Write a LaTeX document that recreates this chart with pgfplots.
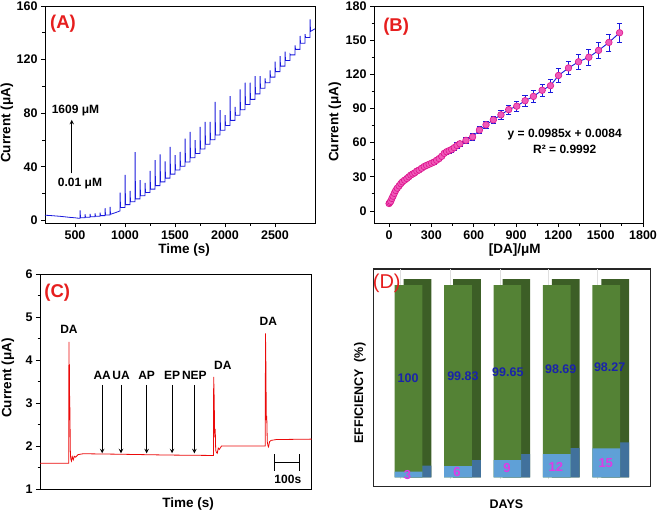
\documentclass[border=0pt]{standalone}
\usepackage{fontspec}
\setmainfont{Liberation Sans}
\usepackage{pgfplots}
\pgfplotsset{compat=1.18}
\usepackage{pgfplotstable}

\definecolor{pblue}{RGB}{25,25,220}
\definecolor{pred}{RGB}{235,10,10}
\definecolor{lblred}{RGB}{230,30,30}
\definecolor{mkfill}{RGB}{240,90,185}
\definecolor{mkdraw}{RGB}{220,20,140}
\definecolor{gfront}{RGB}{84,130,53}
\definecolor{gback}{RGB}{60,94,38}
\definecolor{bfront}{RGB}{95,160,215}
\definecolor{bback}{RGB}{65,113,156}
\definecolor{valblue}{RGB}{25,35,170}
\definecolor{magn}{RGB}{220,60,230}

\pgfplotstableread{
x y e
0 6.5 0.8
5 7.5 0.8
12 8.5 1
20 11 1
28 13 1
37 15.5 1
47 18 1.2
58 20 1.2
71 22 1.2
83 24 1.2
95 25.6 1.3
110 27 1.3
126 28.5 1.5
140 30 1.5
154 31.5 1.5
168 32.5 1.5
182 33.5 1.5
197 35 1.5
213 36 1.6
231 37.5 1.6
249 39 1.8
266 40 1.8
284 41 1.8
302 42 1.8
320 43 2
337 44.5 2
355 46 2
373 48 2
391 50.6 2
408 52 2
426 53 2.2
444 54 2.2
462 55.6 2.2
482 57.5 2.3
502 59 2.5
545 62 2.5
592 65 3
640 71 3
687 75.6 3.2
739 80 3.5
793 84.4 4
848 89 4
905 92 4.5
964 96.8 5
1023 100.6 5
1085 106 5
1144 110 5.5
1201 119 6
1272 125.6 6
1343 131 6.5
1416 135 7
1485 141 7
1558 148 7.5
1634 156.5 8
}\tableB

\pgfplotsset{
  panel/.style={scale only axis, anchor=south west,
    axis line style={line width=0.9pt},
    tick style={line width=0.8pt, black},
    tick align=outside, xtick pos=left, ytick pos=left,
    major tick length=4pt, minor tick length=2.5pt,
    tick label style={font=\bfseries\fontsize{12.5}{12.5}\selectfont},
    label style={font=\bfseries\fontsize{13.5}{13.5}\selectfont},
    /pgf/number format/assume math mode=true,
    /pgf/number format/1000 sep={},
    scaled ticks=false},
}
\tikzset{
  plab/.style={font=\bfseries\fontsize{18.5}{18.5}\selectfont, text=lblred},
  ann/.style={font=\bfseries\fontsize{12}{12}\selectfont},
  dval/.style={font=\bfseries\fontsize{12.5}{12.5}\selectfont, text=valblue},
  dday/.style={font=\bfseries\fontsize{13}{13}\selectfont, text=magn},
}

\begin{document}
\begin{tikzpicture}
\useasboundingbox (0,0) rectangle (658pt,512pt);

% ---------------- Panel A ----------------
\begin{axis}[panel, at={(45pt,289pt)}, width=270pt, height=217pt,
  xmin=200, xmax=2900, ymin=-2, ymax=160,
  xtick={500,1000,1500,2000,2500}, ytick={0,40,80,120,160},
  minor x tick num=1, minor y tick num=1,
  xlabel={Time (s)}, ylabel={Current (μA)},
  xlabel style={at={(axis description cs:0.515,-0.124)}, anchor=center},
  ylabel style={at={(axis description cs:-0.141,0.46)}, anchor=center}]
\addplot[pblue, line width=0.8pt] coordinates {
(200,3.8)(250,3.6)(300,3.3)(350,3.0)(400,2.6)(450,2.2)(500,1.9)(530,1.6)
(550,1.5)(551,7.5)(555,1.9)(600,1.9)(601,4.5)(605,2.3)(650,2.3)(651,4.8)(655,2.7)
(700,2.7)(701,5.2)(705,3.1)(750,3.1)(751,5.8)(755,3.5)(800,3.5)(801,9)(805,4.0)
(850,4.0)(851,10)(855,4.5)(900,5.6)(950,7.0)(951,20.7)(955,9.6)(1000,9.6)(1001,34)(1005,11.7)
(1050,11.7)(1051,22)(1055,13.8)(1100,13.8)(1101,51)(1105,16.0)(1150,16.0)(1151,30)(1155,18.3)
(1200,18.3)(1201,28)(1205,20.7)(1250,20.7)(1251,37)(1255,23.3)(1300,23.3)(1301,44.9)(1305,25.9)
(1350,25.9)(1351,49.3)(1355,28.7)(1400,28.7)(1401,44)(1405,31.5)(1450,31.5)(1451,54.8)(1455,34.5)
(1500,34.5)(1501,48.6)(1505,37.5)(1550,37.5)(1551,51)(1555,40.3)(1600,40.3)(1601,61)(1605,43.5)
(1650,43.5)(1651,66)(1655,46.7)(1700,46.7)(1701,59.8)(1705,49.9)(1750,49.9)(1751,69.8)(1755,53.3)
(1800,53.3)(1801,73.5)(1805,56.8)(1850,56.8)(1851,73.5)(1855,60.2)(1900,60.2)(1901,88.5)(1905,63.7)
(1950,63.7)(1951,82.2)(1955,67.2)(2000,67.2)(2001,78.5)(2005,70.8)(2050,70.8)(2051,92.7)(2055,74.6)
(2100,74.6)(2101,84.7)(2105,78.5)(2150,78.5)(2151,97.7)(2155,82.5)(2200,82.5)(2201,102.7)(2205,86.4)
(2250,86.4)(2251,102.7)(2255,90.3)(2300,90.3)(2301,107.7)(2305,94.4)(2350,94.4)(2351,107.7)(2355,98.6)
(2400,98.6)(2401,105.9)(2405,102.7)(2450,102.7)(2451,112)(2455,106.9)(2500,106.9)(2501,118.4)(2505,111.0)
(2550,111.0)(2551,122.6)(2555,115.1)(2600,115.1)(2601,126)(2605,119.3)(2650,119.3)(2651,124)(2655,123.5)
(2700,123.5)(2701,130.6)(2705,127.6)(2750,127.6)(2751,137.6)(2755,132.2)(2800,132.2)(2801,139)(2805,136.5)
(2850,136.5)(2851,150)(2855,141)(2900,143)};
\draw[-stealth, line width=1pt] (axis cs:467,35) -- (axis cs:467,75);
\node[ann, fill=white, inner sep=1pt] at (axis cs:505,82) {1609 μM};
\node[ann, fill=white, inner sep=1pt] at (axis cs:550,27.5) {0.01 μM};
\node[plab] at (axis cs:380,147) {(A)};
\end{axis}

% ---------------- Panel B ----------------
\begin{axis}[panel, at={(374pt,289pt)}, width=269pt, height=217pt,
  xmin=-107, xmax=1800, ymin=-10.6, ymax=180,
  xtick={0,300,600,900,1200,1500,1800}, ytick={0,30,60,90,120,150,180},
  minor x tick num=1, minor y tick num=1,
  xlabel={[DA]/μM}, ylabel={Current (μA)},
  xlabel style={at={(axis description cs:0.523,-0.124)}, anchor=center},
  ylabel style={at={(axis description cs:-0.145,0.465)}, anchor=center}]
\addplot[only marks, mark=*, mark size=3.3pt, mark options={draw=mkdraw, fill=mkfill, line width=0.6pt}]
  table[x=x, y=y] {\tableB};
\addplot[pblue, line width=0.9pt, no markers,
  error bars/.cd, y dir=both, y explicit,
  error bar style={pblue, line width=0.7pt},
  error mark options={rotate=90, mark size=2.6pt, pblue, line width=0.7pt}]
  table[x=x, y=y, y error=e] {\tableB};
\node[ann] at (axis cs:1245,66.8) {y = 0.0985x + 0.0084};
\node[ann] at (axis cs:1245,54.4) {R² = 0.9992};
\node[plab] at (axis cs:50,162) {(B)};
\end{axis}

% ---------------- Panel C ----------------
\begin{axis}[panel, at={(40pt,23pt)}, width=271.7pt, height=215pt,
  xmin=0, xmax=1070, ymin=1, ymax=6,
  xtick=\empty, ytick={1,2,3,4,5,6}, minor y tick num=1,
  xlabel={Time (s)}, ylabel={Current (μA)},
  xlabel style={at={(axis description cs:0.545,-0.07)}, anchor=center},
  ylabel style={at={(axis description cs:-0.118,0.516)}, anchor=center}]
\addplot[pred, line width=0.8pt] coordinates {
(0,1.6)(60,1.6)(113,1.6)(114,4.42)(115,2.9)(116,3.9)(117,2.6)(118,2.9)(119,1.95)(121,1.7)(124,1.65)
(127,1.75)(131,1.68)(135,1.76)(140,1.74)(150,1.8)(170,1.82)(300,1.81)(500,1.79)(683,1.78)
(684,3.61)(686,3.1)(688,2.2)(690,2.4)(692,1.9)(695,1.85)(698,1.83)(702,1.95)(706,1.92)(715,2.0)(740,2.0)(887,2.0)
(888,4.62)(890,3.7)(891,2.6)(893,2.7)(895,2.1)(898,2.0)(900,1.98)(904,2.1)(910,2.13)(930,2.15)(1070,2.16)};
\draw[-stealth, line width=1pt] (axis cs:245,3.42) -- (axis cs:245,1.83);
\draw[-stealth, line width=1pt] (axis cs:319,3.42) -- (axis cs:319,1.83);
\draw[-stealth, line width=1pt] (axis cs:420,3.42) -- (axis cs:420,1.83);
\draw[-stealth, line width=1pt] (axis cs:520,3.42) -- (axis cs:520,1.83);
\draw[-stealth, line width=1pt] (axis cs:608,3.42) -- (axis cs:608,1.83);
\node[ann] at (axis cs:245,3.65) {AA};
\node[ann] at (axis cs:319,3.65) {UA};
\node[ann] at (axis cs:420,3.65) {AP};
\node[ann] at (axis cs:520,3.65) {EP};
\node[ann] at (axis cs:608,3.65) {NEP};
\node[ann] at (axis cs:114,4.72) {DA};
\node[ann] at (axis cs:720,3.88) {DA};
\node[ann] at (axis cs:899,4.9) {DA};
\draw[line width=1pt] (axis cs:922,1.62) -- (axis cs:1021,1.62);
\draw[line width=1pt] (axis cs:922,1.43) -- (axis cs:922,1.81);
\draw[line width=1pt] (axis cs:1021,1.43) -- (axis cs:1021,1.81);
\node[ann] at (axis cs:976,1.22) {100s};
\node[plab] at (axis cs:68,5.57) {(C)};
\end{axis}

% ---------------- Panel D ----------------
\begin{axis}[scale only axis, anchor=south west, at={(373.7pt,25.3pt)}, width=277pt, height=217.7pt,
  xmin=0.2955, xmax=5.9, ymin=-9.4, ymax=208.3,
  xtick=\empty, ytick=\empty,
  axis line style={line width=1.3pt, black!85},
  xlabel={DAYS}, ylabel={EFFICIENCY\ \ (\%)},
  label style={font=\bfseries\fontsize{12.5}{12.5}\selectfont},
  xlabel style={at={(axis description cs:0.479,-0.08)}, anchor=center},
  ylabel style={at={(axis description cs:-0.05,0.43)}, anchor=center}]
\draw[gray!25, line width=0.5pt] (axis cs:0.84,-2) -- (axis cs:0.84,208.3);
\draw[gray!25, line width=0.5pt] (axis cs:1.84,-2) -- (axis cs:1.84,208.3);
\draw[gray!25, line width=0.5pt] (axis cs:2.85,-2) -- (axis cs:2.85,208.3);
\draw[gray!25, line width=0.5pt] (axis cs:3.83,-2) -- (axis cs:3.83,208.3);
\draw[gray!25, line width=0.5pt] (axis cs:4.82,-2) -- (axis cs:4.82,208.3);
\addplot[ybar, bar width=27.7pt, bar shift=9pt, fill=gback, draw=none]
  coordinates {(1,198.3)(2,198.3)(3,198.3)(4,198.3)(5,198.3)};
\addplot[ybar, bar width=27.7pt, bar shift=9pt, fill=bback, draw=none]
  coordinates {(1,11.6)(2,17.3)(3,23.3)(4,29.3)(5,35)};
\addplot[ybar, bar width=27.7pt, bar shift=0pt, fill=gfront, draw=none]
  coordinates {(1,192.3)(2,192.3)(3,192.3)(4,192.3)(5,192.3)};
\addplot[ybar, bar width=27.7pt, bar shift=0pt, fill=bfront, draw=none]
  coordinates {(1,5.6)(2,11.3)(3,17.3)(4,23.3)(5,29)};
\node[dval] at (axis cs:0.99,99) {100};
\node[dval] at (axis cs:2.10,101.3) {99.83};
\node[dval] at (axis cs:3.01,105.3) {99.65};
\node[dval] at (axis cs:4.08,108) {98.69};
\node[dval] at (axis cs:5.07,110) {98.27};
\node[dday] at (axis cs:0.98,2.3) {3};
\node[dday] at (axis cs:1.98,5.6) {6};
\node[dday] at (axis cs:2.99,9) {9};
\node[dday] at (axis cs:3.98,10.6) {12};
\node[dday] at (axis cs:4.99,14.6) {15};
\node[font=\fontsize{20}{20}\selectfont, text=lblred] at (axis cs:0.56,194) {(D)};
\end{axis}
\end{tikzpicture}
\end{document}
